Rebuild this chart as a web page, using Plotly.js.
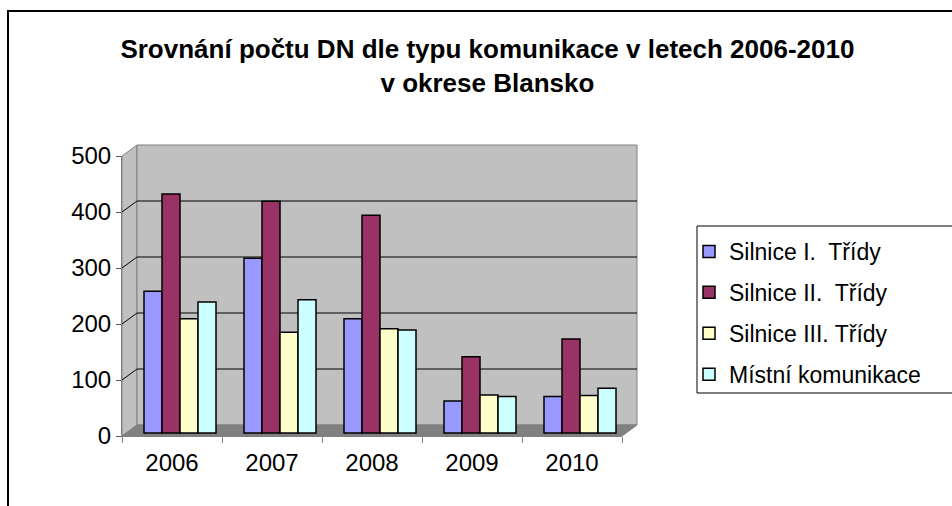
<!DOCTYPE html>
<html>
<head>
<meta charset="utf-8">
<script src="https://cdn.plot.ly/plotly-3.0.1.min.js"></script>
<style>
html,body{margin:0;padding:0;background:#fff;overflow:hidden;}
#wrap{position:relative;width:952px;height:506px;overflow:hidden;}
#chart{width:952px;height:506px;}
.fl{position:absolute;background:#000;pointer-events:none;z-index:10;}
</style>
</head>
<body>
<div id="wrap"><div id="chart"></div>
<div class="fl" style="left:7px;top:10px;width:945px;height:2px;"></div>
<div class="fl" style="left:7px;top:10px;width:2px;height:496px;"></div>
</div>
<script>
const years = ['2006', '2007', '2008', '2009', '2010'];
const seriesNames = ['Silnice I.  Třídy', 'Silnice II.  Třídy', 'Silnice III. Třídy', 'Místní komunikace'];
const silniceI = [253, 312, 204, 57, 65];
const silniceII = [427, 414, 389, 136, 168];
const silniceIII = [204, 180, 186, 68, 67];
const mistni = [234, 238, 184, 65, 80];
const yTicks = [0, 100, 200, 300, 400, 500];
const colors = ['#9999FF', '#993366', '#FFFFCC', '#CCFFFF'];

const values = [silniceI, silniceII, silniceIII, mistni];
const traces = values.map((v, i) => ({
  type: 'bar',
  x: years,
  y: v,
  name: seriesNames[i],
  legendgroup: 'g' + i,
  xaxis: 'x2',
  yaxis: 'y2',
  marker: {color: colors[i], line: {color: '#000', width: 1.5}},
  hoverinfo: 'x+y+name'
}));
traces.push({
  type: 'scatter', x: years, y: years.map(() => 0), mode: 'markers',
  marker: {opacity: 0}, showlegend: false, hoverinfo: 'skip'
});

// 3D frame (decoration): depth offset in paper units
const dx = 0.03, dy = 11 / 280;
const yMax = yTicks[yTicks.length - 1];
const shapes = [];
shapes.push({type: 'path', xref: 'paper', yref: 'paper', layer: 'below',
  path: `M 0,0 L ${dx},${dy} L ${dx},${1 + dy} L 0,1 Z`,
  fillcolor: '#c0c0c0', line: {color: '#808080', width: 1}});
shapes.push({type: 'rect', xref: 'paper', yref: 'paper', layer: 'below',
  x0: dx, x1: 1 + dx, y0: dy, y1: 1 + dy,
  fillcolor: '#c0c0c0', line: {color: '#808080', width: 1}});
shapes.push({type: 'path', xref: 'paper', yref: 'paper', layer: 'below',
  path: `M 0,0 L ${dx},${dy} L ${1 + dx},${dy} L 1,0 Z`,
  fillcolor: '#808080', line: {color: '#808080', width: 1}});
yTicks.slice(1, -1).forEach(t => {
  const p = t / yMax;
  shapes.push({type: 'line', xref: 'paper', yref: 'paper', layer: 'below',
    x0: dx, x1: 1 + dx, y0: p + dy, y1: p + dy, line: {color: '#000', width: 1}});
  shapes.push({type: 'line', xref: 'paper', yref: 'paper', layer: 'below',
    x0: 0, x1: dx, y0: p, y1: p + dy, line: {color: '#000', width: 1}});
});
// legend box (extends past the right edge as in the original)
shapes.push({type: 'rect', xref: 'paper', yref: 'paper', layer: 'below',
  x0: (697 - 122) / 500, x1: 2, y0: (436 - 393) / 280, y1: (436 - 226) / 280,
  fillcolor: '#fff', line: {color: '#000', width: 1}});

const font = 'Liberation Sans, Arial, sans-serif';
const layout = {
  width: 952, height: 506,
  margin: {l: 122, r: 330, t: 156, b: 70, autoexpand: false},
  paper_bgcolor: '#fff', plot_bgcolor: 'rgba(0,0,0,0)',
  font: {family: font, color: '#000', size: 23},
  title: {
    text: '<b>Srovnání počtu DN dle typu komunikace v letech 2006-2010<br>v okrese Blansko</b>',
    font: {family: font, size: 26, color: '#000'},
    xref: 'container', yref: 'container', x: 0.512, xanchor: 'center',
    y: 1 - 58 / 506, yanchor: 'top'
  },
  barmode: 'group', bargap: 0.28, bargroupgap: 0,
  xaxis: {
    type: 'category', categoryarray: years, range: [-0.5, 4.5],
    tickson: 'boundaries', ticks: 'outside', ticklen: 6, tickcolor: '#808080',
    showline: true, linecolor: '#808080', showgrid: false, zeroline: false,
    ticklabelstandoff: 5,
    tickfont: {family: font, size: 24, color: '#000'}, fixedrange: true
  },
  yaxis: {
    range: [0, yMax], tickvals: yTicks, ticks: 'outside', ticklen: 5, tickcolor: '#555',
    showline: true, linecolor: '#808080', showgrid: false, zeroline: false,
    tickfont: {family: font, size: 24, color: '#000'}, fixedrange: true
  },
  xaxis2: {type: 'category', categoryarray: years, overlaying: 'x', range: [-0.58, 4.42], visible: false, fixedrange: true},
  yaxis2: {overlaying: 'y', range: [-5.36, 494.64], visible: false, fixedrange: true},
  legend: {
    x: (689 - 122) / 500, y: (436 - 230) / 280, xanchor: 'left', yanchor: 'top',
    bgcolor: 'rgba(0,0,0,0)', borderwidth: 0,
    font: {family: font, size: 23, color: '#000'},
    tracegroupgap: 8, traceorder: 'grouped'
  },
  shapes: shapes,
  showlegend: true
};
Plotly.newPlot('chart', traces, layout, {displayModeBar: false, staticPlot: true});
</script>
</body>
</html>
